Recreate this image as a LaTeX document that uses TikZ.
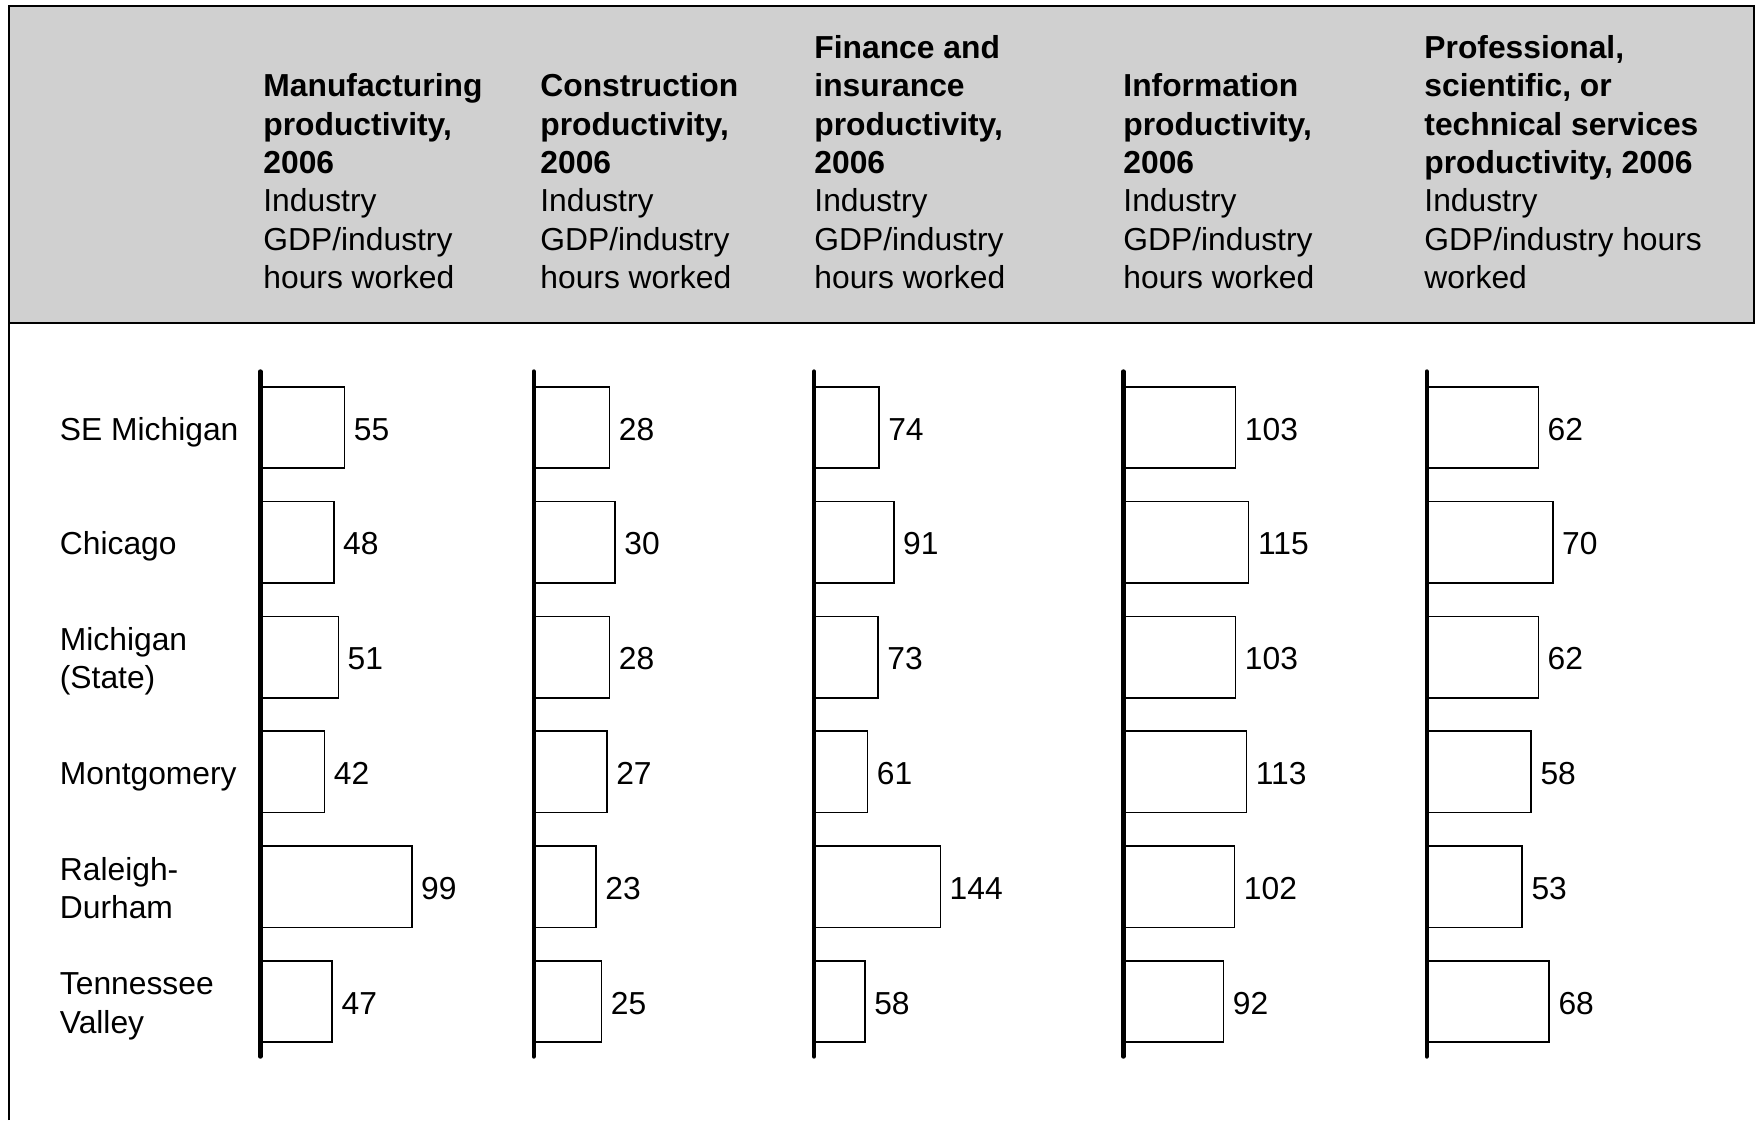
\documentclass[tikz,border=0pt]{standalone}
\usepackage{fontspec}
\setmainfont{Liberation Sans}
\definecolor{hdrgray}{RGB}{208,208,208}
\newcommand{\mystack}[1]{\begin{tabular}[b]{@{}l@{}}#1\end{tabular}}
\newcommand{\myfs}{\fontsize{15.9}{19.15}\selectfont}
\begin{document}
\begin{tikzpicture}[x=0.5pt,y=-0.5pt,
  frameline/.style={line width=1.2pt},
  axisline/.style={line width=2.2pt,line cap=round},
  barbox/.style={draw,line width=0.8pt,fill=white},
  txt/.style={inner sep=0pt,anchor=base west,font=\myfs},
]
\useasboundingbox (0,0) rectangle (1755,1120);
% header band
\fill[hdrgray] (9,6) rectangle (1754,323);
\draw[frameline] (9,1120) -- (9,6) -- (1754,6) -- (1754,323);
\draw[frameline] (9,323) -- (1755,323);
% column headers
\node[txt] (h1) at (263,288.3) {\mystack{\textbf{Manufacturing}\\\textbf{productivity,}\\\textbf{2006}\\Industry\\GDP/industry\\hours worked}};
\node[txt] (h2) at (540,288.3) {\mystack{\textbf{Construction}\\\textbf{productivity,}\\\textbf{2006}\\Industry\\GDP/industry\\hours worked}};
\node[txt] (h3) at (814,288.3) {\mystack{\textbf{Finance and}\\\textbf{insurance}\\\textbf{productivity,}\\\textbf{2006}\\Industry\\GDP/industry\\hours worked}};
\node[txt] (h4) at (1123,288.3) {\mystack{\textbf{Information}\\\textbf{productivity,}\\\textbf{2006}\\Industry\\GDP/industry\\hours worked}};
\node[txt] (h5) at (1424,288.3) {\mystack{\textbf{Professional,}\\\textbf{scientific, or}\\\textbf{technical services}\\\textbf{productivity, 2006}\\Industry\\GDP/industry hours\\worked}};
% row labels
\node[txt] (r0) at (59.5,{386.7+41+12.3}) {SE Michigan};
\node[txt] (r1) at (59.5,{386.7+114.8+41+12.3}) {Chicago};
\node[txt] (r2) at (59.5,{386.7+2*114.8+41+19.2+12.3}) {\mystack{Michigan\\(State)}};
\node[txt] (r3) at (59.5,{386.7+3*114.8+41+12.3}) {Montgomery};
\node[txt] (r4) at (59.5,{386.7+4*114.8+41+19.2+12.3}) {\mystack{Raleigh-\\Durham}};
\node[txt] (r5) at (59.5,{386.7+5*114.8+41+19.2+12.3}) {\mystack{Tennessee\\Valley}};
% bars
\foreach \col/\ax/\sc/\vals in {
  1/260.3/1.53/{55,48,51,42,99,47},
  2/533.7/2.71/{28,30,28,27,23,25},
  3/814/0.877/{74,91,73,61,144,58},
  4/1123.3/1.09/{103,115,103,113,102,92},
  5/1426.7/1.8/{62,70,62,58,53,68}}{
  \foreach \v [count=\r from 0] in \vals {
    \pgfmathsetmacro\t{386.7+114.8*\r}
    \pgfmathsetmacro\w{\v*\sc}
    \draw[barbox] (\ax,\t) rectangle ({\ax+\w},{\t+81.5});
    \node[txt] (v\col-\r) at ({\ax+\w+9},{\t+41+12.3}) {\v};
  }
  \draw[axisline] (\ax,371.5) -- (\ax,1056.5);
}
\end{tikzpicture}
\end{document}
